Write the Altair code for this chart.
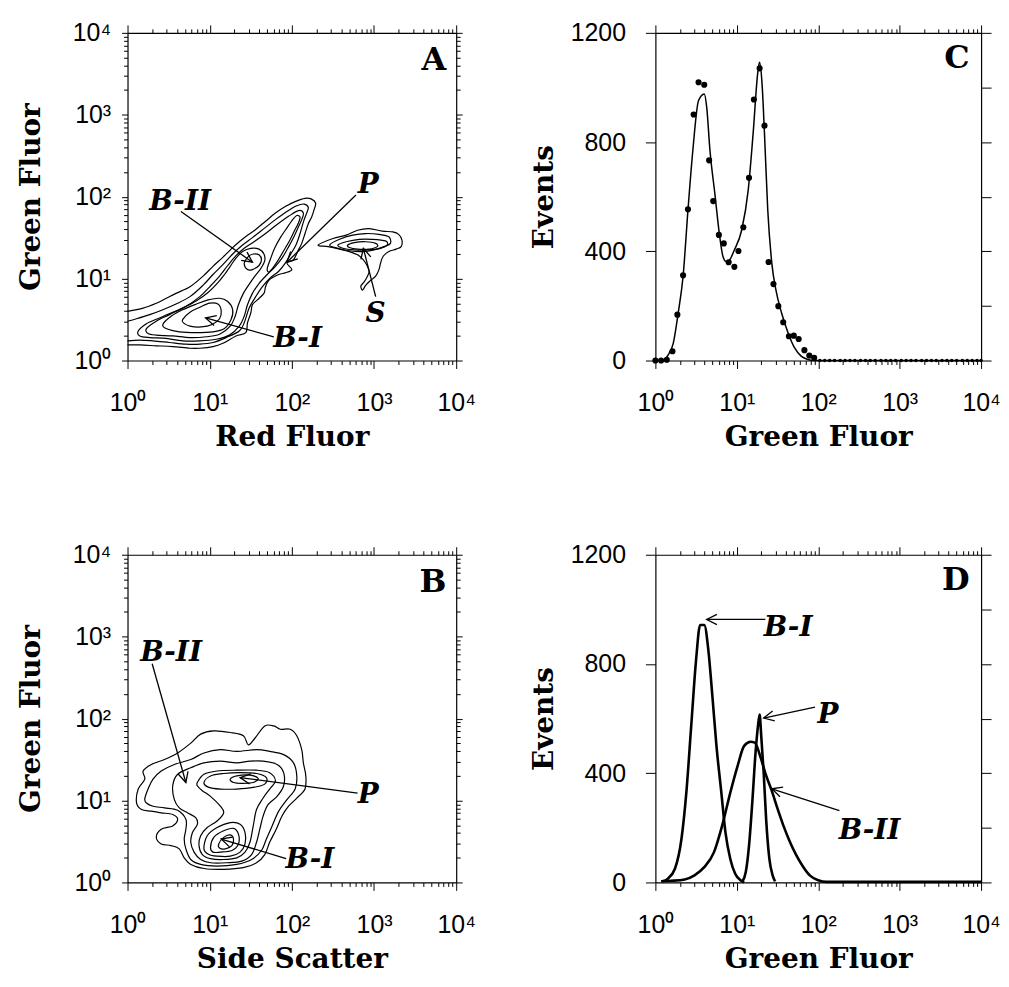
import math
import altair as alt
import pandas as pd

# ---------------- layout / style constants ----------------
W_LOG, W_EV, H = 330, 327, 329
SANS = "Liberation Sans"
SERIF = "DejaVu Serif"
HEAD = "M-1,-0.5L0,0L-1,0.5"

# ---------------- axis ticks and labels ----------------
DECADES = [1, 10, 100, 1000, 10000]
DECADE_LABELS = ["10⁰", "10¹", "10²", "10³", "10⁴"]
LOG_TICKS = [m * 10 ** e for e in range(4) for m in range(1, 10)] + [10000]
EVENT_TICKS_LEFT = [0, 400, 800, 1200]
EVENT_TICKS_RIGHT = [0, 200, 400, 600, 800, 1000, 1200]

# ---------------- Panel A: contours (log10 Red Fluor, log10 Green Fluor) ----------------
a_outer1 = [(0.00, 0.60), (0.19, 0.64), (0.35, 0.70), (0.47, 0.76), (0.59, 0.82), (0.76, 0.90),
            (0.92, 1.03), (1.04, 1.15), (1.16, 1.26), (1.26, 1.36), (1.36, 1.45), (1.46, 1.53),
            (1.56, 1.60), (1.68, 1.70), (1.80, 1.80), (1.92, 1.88), (2.04, 1.94), (2.16, 1.98),
            (2.24, 1.97), (2.29, 1.92), (2.27, 1.84), (2.24, 1.75), (2.20, 1.67), (2.16, 1.55),
            (2.12, 1.43), (2.07, 1.33), (2.02, 1.23), (1.94, 1.19), (2.00, 1.11), (1.92, 1.07),
            (1.84, 1.05), (1.72, 0.98), (1.68, 0.90), (1.66, 0.82), (1.58, 0.74), (1.52, 0.68),
            (1.50, 0.58), (1.46, 0.46), (1.44, 0.34), (1.32, 0.30), (1.16, 0.21), (1.04, 0.17),
            (0.88, 0.15), (0.76, 0.15), (0.55, 0.17), (0.35, 0.18), (0.15, 0.19), (0.00, 0.19)]
a_outer2 = [(0.00, 0.48), (0.11, 0.51), (0.27, 0.56), (0.43, 0.62), (0.59, 0.69), (0.76, 0.78),
            (0.92, 0.92), (1.04, 1.05), (1.16, 1.17), (1.28, 1.30), (1.40, 1.41), (1.52, 1.50),
            (1.66, 1.61), (1.80, 1.72), (1.94, 1.82), (2.06, 1.89), (2.15, 1.91), (2.20, 1.87),
            (2.18, 1.80), (2.14, 1.69), (2.10, 1.55), (2.05, 1.41), (1.98, 1.29), (1.92, 1.19),
            (1.84, 1.09), (1.74, 1.01), (1.64, 0.90), (1.56, 0.78), (1.48, 0.64), (1.42, 0.46),
            (1.36, 0.36), (1.20, 0.28), (1.04, 0.22), (0.88, 0.20), (0.71, 0.20), (0.51, 0.22),
            (0.31, 0.24), (0.15, 0.25), (0.00, 0.24)]
a_ring3 = [(0.13, 0.36), (0.23, 0.45), (0.39, 0.52), (0.55, 0.59), (0.71, 0.66), (0.88, 0.78),
           (1.00, 0.90), (1.12, 1.03), (1.22, 1.16), (1.32, 1.28), (1.42, 1.37), (1.54, 1.45),
           (1.68, 1.55), (1.82, 1.66), (1.96, 1.76), (2.08, 1.83), (2.14, 1.80), (2.12, 1.72),
           (2.07, 1.61), (2.01, 1.48), (1.95, 1.37), (1.88, 1.25), (1.80, 1.15), (1.70, 1.05),
           (1.60, 0.94), (1.52, 0.82), (1.46, 0.68), (1.42, 0.54), (1.36, 0.42), (1.24, 0.31),
           (1.08, 0.26), (0.88, 0.24), (0.67, 0.24), (0.47, 0.27), (0.27, 0.28), (0.15, 0.30)]
a_ring4 = [(0.23, 0.39), (0.35, 0.48), (0.51, 0.56), (0.67, 0.64), (0.84, 0.73), (0.98, 0.83),
           (1.10, 0.95), (1.18, 1.05), (1.25, 1.15), (1.32, 1.25), (1.40, 1.33), (1.50, 1.37),
           (1.60, 1.36), (1.66, 1.30), (1.67, 1.22), (1.62, 1.12), (1.55, 1.03), (1.48, 0.93),
           (1.41, 0.82), (1.35, 0.68), (1.31, 0.54), (1.25, 0.42), (1.12, 0.32), (0.96, 0.29),
           (0.76, 0.28), (0.55, 0.30), (0.35, 0.31), (0.25, 0.33)]
a_p_ring = [(1.70, 1.12), (1.74, 1.24), (1.79, 1.37), (1.86, 1.50), (1.94, 1.62), (2.01, 1.72),
            (2.06, 1.77), (2.10, 1.75), (2.08, 1.68), (2.03, 1.58), (1.97, 1.46), (1.90, 1.34),
            (1.83, 1.22), (1.76, 1.12), (1.72, 1.08)]
a_bi_ring = [(0.43, 0.44), (0.53, 0.54), (0.67, 0.62), (0.84, 0.69), (0.98, 0.74), (1.12, 0.76),
             (1.22, 0.72), (1.28, 0.62), (1.26, 0.50), (1.18, 0.39), (1.04, 0.35), (0.84, 0.34),
             (0.63, 0.35), (0.47, 0.39)]
a_bi_core = [(0.67, 0.50), (0.76, 0.59), (0.88, 0.65), (1.00, 0.70), (1.10, 0.69), (1.14, 0.61),
             (1.12, 0.51), (1.03, 0.44), (0.90, 0.41), (0.76, 0.42), (0.68, 0.46)]
a_bii_core = [(1.42, 1.18), (1.46, 1.26), (1.53, 1.30), (1.60, 1.29), (1.63, 1.23), (1.60, 1.16),
              (1.52, 1.11), (1.46, 1.11)]
a_s1 = [(2.32, 1.41), (2.50, 1.49), (2.66, 1.53), (2.80, 1.59), (2.94, 1.61), (3.10, 1.58),
        (3.23, 1.57), (3.30, 1.54), (3.34, 1.47), (3.33, 1.39), (3.27, 1.36), (3.18, 1.33),
        (3.11, 1.27), (3.08, 1.19), (3.06, 1.11), (3.02, 1.03), (2.96, 0.98), (2.90, 0.92),
        (2.86, 0.86), (2.84, 0.91), (2.88, 0.96), (2.92, 1.03), (2.94, 1.09), (2.91, 1.17),
        (2.86, 1.24), (2.80, 1.29), (2.70, 1.33), (2.58, 1.36), (2.44, 1.39)]
a_s2 = [(2.46, 1.41), (2.58, 1.48), (2.74, 1.53), (2.90, 1.55), (3.06, 1.54), (3.18, 1.51),
        (3.20, 1.43), (3.12, 1.39), (3.00, 1.35), (2.86, 1.33), (2.70, 1.34), (2.56, 1.37)]
a_s3 = [(2.56, 1.41), (2.66, 1.45), (2.82, 1.48), (2.98, 1.48), (3.14, 1.46), (3.16, 1.41),
        (3.08, 1.37), (2.92, 1.35), (2.76, 1.35), (2.62, 1.37)]
a_s4 = [(2.68, 1.41), (2.76, 1.44), (2.90, 1.45), (3.02, 1.43), (3.04, 1.39), (2.94, 1.36),
        (2.80, 1.36), (2.70, 1.38)]

# ---------------- Panel B: contours (log10 Side Scatter, log10 Green Fluor) ----------------
b_ring1 = [(0.11, 0.97), (0.13, 1.14), (0.21, 1.26), (0.19, 1.36), (0.29, 1.44), (0.45, 1.50),
           (0.61, 1.58), (0.77, 1.70), (0.89, 1.81), (1.05, 1.85), (1.25, 1.83), (1.41, 1.79),
           (1.47, 1.68), (1.55, 1.76), (1.67, 1.91), (1.78, 1.91), (1.86, 1.87), (1.98, 1.87),
           (2.06, 1.79), (2.12, 1.62), (2.14, 1.46), (2.17, 1.30), (2.16, 1.14), (2.06, 1.03),
           (1.96, 0.93), (1.88, 0.81), (1.81, 0.65), (1.73, 0.49), (1.67, 0.34), (1.57, 0.24),
           (1.41, 0.18), (1.17, 0.16), (0.93, 0.17), (0.77, 0.22), (0.69, 0.30), (0.63, 0.41),
           (0.53, 0.45), (0.41, 0.47), (0.35, 0.55), (0.41, 0.65), (0.55, 0.69), (0.61, 0.77),
           (0.55, 0.83), (0.41, 0.85), (0.29, 0.87), (0.17, 0.89)]
b_ring2 = [(0.21, 1.02), (0.25, 1.14), (0.31, 1.26), (0.41, 1.36), (0.57, 1.44), (0.77, 1.50),
           (0.93, 1.58), (1.13, 1.62), (1.33, 1.60), (1.57, 1.62), (1.73, 1.60), (1.90, 1.56),
           (2.02, 1.46), (2.06, 1.30), (2.04, 1.14), (1.94, 1.01), (1.84, 0.87), (1.76, 0.69),
           (1.69, 0.53), (1.63, 0.39), (1.51, 0.28), (1.33, 0.22), (1.09, 0.20), (0.89, 0.22),
           (0.77, 0.28), (0.71, 0.41), (0.69, 0.53), (0.71, 0.65), (0.71, 0.77), (0.61, 0.88),
           (0.45, 0.91), (0.31, 0.93), (0.23, 0.97)]
b_ring3 = [(0.55, 1.18), (0.61, 1.32), (0.77, 1.40), (0.93, 1.46), (1.13, 1.48), (1.33, 1.46),
           (1.49, 1.48), (1.65, 1.48), (1.82, 1.44), (1.90, 1.34), (1.90, 1.18), (1.82, 1.05),
           (1.71, 0.95), (1.65, 0.81), (1.61, 0.65), (1.57, 0.49), (1.51, 0.34), (1.39, 0.26),
           (1.21, 0.24), (1.01, 0.24), (0.89, 0.28), (0.81, 0.37), (0.77, 0.49), (0.79, 0.61),
           (0.85, 0.71), (0.83, 0.79), (0.73, 0.85), (0.63, 0.91), (0.57, 1.01)]
b_pbi_ring = [(0.85, 1.22), (0.93, 1.32), (1.09, 1.36), (1.33, 1.37), (1.57, 1.37), (1.73, 1.34),
              (1.80, 1.24), (1.73, 1.14), (1.65, 1.03), (1.57, 0.89), (1.53, 0.69), (1.49, 0.49),
              (1.43, 0.37), (1.33, 0.30), (1.17, 0.28), (1.01, 0.29), (0.91, 0.34), (0.87, 0.45),
              (0.89, 0.57), (0.97, 0.67), (1.09, 0.75), (1.17, 0.85), (1.13, 0.93), (1.01, 1.05),
              (0.91, 1.12), (0.85, 1.18)]
b_p_ring = [(0.93, 1.22), (1.01, 1.30), (1.17, 1.33), (1.37, 1.34), (1.57, 1.33), (1.69, 1.28),
            (1.67, 1.20), (1.53, 1.16), (1.33, 1.14), (1.13, 1.14), (0.99, 1.16)]
b_p_core = [(1.25, 1.26), (1.33, 1.30), (1.49, 1.31), (1.59, 1.27), (1.53, 1.22), (1.39, 1.21),
            (1.29, 1.22)]
b_bi_ring = [(0.93, 0.41), (0.97, 0.57), (1.09, 0.67), (1.25, 0.73), (1.37, 0.71), (1.43, 0.61),
             (1.43, 0.47), (1.37, 0.37), (1.25, 0.32), (1.09, 0.32), (0.99, 0.34)]
b_bi_ring2 = [(1.01, 0.43), (1.05, 0.55), (1.17, 0.63), (1.29, 0.66), (1.35, 0.59), (1.35, 0.47),
              (1.27, 0.39), (1.13, 0.37), (1.04, 0.37)]
b_bi_core = [(1.11, 0.47), (1.17, 0.55), (1.25, 0.58), (1.29, 0.53), (1.27, 0.45), (1.19, 0.41),
             (1.12, 0.42)]

# ---------------- Panel C: histogram of Green Fluor (log10 value, events) ----------------
c_dot_lx = [0.00, 0.07, 0.14, 0.21, 0.27, 0.34, 0.40, 0.47, 0.53, 0.60, 0.66, 0.71, 0.78, 0.84,
            0.90, 0.97, 1.02, 1.08, 1.15, 1.21, 1.28, 1.34, 1.39, 1.45, 1.51, 1.57, 1.64, 1.70,
            1.76, 1.83, 1.89, 1.95]
c_dot_ev = [0, 0, 3, 34, 168, 312, 554, 901, 1019, 1010, 733, 584, 460, 429, 360, 343, 401, 488,
            669, 956, 1070, 860, 361, 280, 199, 140, 89, 91, 79, 38, 18, 10]
c_tail_lx = [2.02, 2.08, 2.14, 2.20, 2.27, 2.33, 2.39, 2.45, 2.52, 2.58, 2.64, 2.70, 2.77, 2.83,
             2.89, 2.95, 3.02, 3.08, 3.14, 3.20, 3.27, 3.33, 3.39, 3.45, 3.52, 3.58, 3.64, 3.70,
             3.77, 3.83, 3.89, 3.95, 4.00]
c_tail_ev = [0, 0, 0, 0, 0, 0, 0, 0, 0, 0, 0, 0, 0, 0, 0, 0, 0, 0, 0, 0, 0, 0, 0, 0, 0, 0, 0, 0,
             0, 0, 0, 0, 0]
c_fit_lx = [0.10, 0.16, 0.22, 0.28, 0.34, 0.40, 0.46, 0.53, 0.60, 0.63, 0.67, 0.73, 0.79, 0.83,
            0.87, 0.91, 0.97, 1.06, 1.14, 1.20, 1.26, 1.28, 1.31, 1.34, 1.38, 1.43, 1.48, 1.55,
            1.63, 1.71, 1.79, 1.87, 1.95, 4.00]
c_fit_ev = [0, 22, 64, 174, 308, 551, 770, 952, 976, 928, 770, 612, 454, 381, 362, 368, 405, 478,
            624, 830, 1061, 1092, 1013, 830, 551, 356, 259, 174, 101, 46, 16, 4, 0, 0]

# ---------------- Panel D: gated histograms (log10 Green Fluor, events) ----------------
d_bi_lx = [0.09, 0.15, 0.24, 0.32, 0.38, 0.44, 0.50, 0.55, 0.60, 0.65, 0.70, 0.75, 0.81, 0.86,
           0.92, 0.98, 1.05, 1.09]
d_bi_ev = [4, 13, 50, 159, 329, 573, 816, 943, 943, 852, 682, 500, 329, 184, 86, 32, 7, 0]
d_bii_lx = [0.07, 0.19, 0.36, 0.48, 0.60, 0.72, 0.82, 0.92, 1.01, 1.09, 1.17, 1.22, 1.29, 1.35,
            1.43, 1.50, 1.57, 1.65, 1.73, 1.82, 1.90, 2.00, 2.10, 4.00]
d_bii_ev = [4, 6, 11, 26, 56, 111, 208, 329, 427, 500, 515, 512, 460, 400, 335, 270, 210, 150,
            100, 55, 25, 8, 2, 2]
d_p_lx = [1.07, 1.11, 1.15, 1.19, 1.23, 1.26, 1.28, 1.30, 1.33, 1.36, 1.40, 1.44, 1.47]
d_p_ev = [4, 38, 135, 293, 475, 573, 615, 536, 402, 232, 86, 26, 4]

# ---------------- annotations (label, label pos, arrow tail, arrow tip) ----------------
a_labels = ["B-II", "P", "B-I", "S"]
a_label_pos = [(0.64, 1.84), (2.93, 2.05), (2.07, 0.17), (3.02, 0.47)]
a_arrow_tail = [(0.65, 1.82), (2.78, 2.02), (1.78, 0.29), (3.02, 0.78)]
a_arrow_tip = [(1.52, 1.20), (1.94, 1.20), (0.95, 0.52), (2.87, 1.37)]

b_labels = ["B-II", "P", "B-I"]
b_label_pos = [(0.53, 2.70), (2.93, 0.97), (2.22, 0.17)]
b_arrow_tail = [(0.30, 2.67), (2.80, 1.09), (1.93, 0.29)]
b_arrow_tip = [(0.71, 1.22), (1.37, 1.28), (1.14, 0.53)]

d_labels = ["B-I", "P", "B-II"]
d_label_pos = [(1.63, 901), (2.12, 583), (2.63, 160)]
d_arrow_tail = [(1.35, 963), (1.96, 642), (2.26, 263)]
d_arrow_tip = [(0.63, 963), (1.33, 602), (1.43, 343)]

log_letter_pos = (3.88, 3.55)
ev_letter_pos = (3.86, 1070)

# =====================================================================
LABEL_EXPR = " : ".join(f"datum.value == {v} ? '{s}'" for v, s in zip(DECADES, DECADE_LABELS)) + " : ''"
MAJOR_TEST = "indexof([1, 10, 100, 1000, 10000], datum.value) >= 0"


def log_tick(major, minor):
    return {"condition": {"test": MAJOR_TEST, "value": major}, "value": minor}


def make_axis(orient, values, size, labels=False, title="", label_pad=0, title_pad=0, log=True):
    kw = dict(orient=orient, values=values, grid=False, domainColor="black", domainWidth=1.2,
              tickColor="black", tickWidth=1, tickSize=size, labelOverlap=False,
              labelFlush=False, title=title)
    if labels:
        kw.update(labelFont=SANS, labelFontSize=25, labelColor="black", labelPadding=label_pad)
        if log:
            kw["labelExpr"] = LABEL_EXPR
        else:
            kw["format"] = "d"
    else:
        kw["labels"] = False
    if title:
        kw.update(titleFont=SERIF, titleFontSize=28, titleFontWeight="bold",
                  titleColor="black", titlePadding=title_pad)
    return alt.Axis(**kw)


def log_scale():
    return alt.Scale(type="log", domain=[1, 10000], nice=False)


def ev_scale():
    return alt.Scale(domain=[0, 1200], nice=False, zero=True)


def paths_df(paths, ylog=True):
    rows = []
    for name, pts in paths.items():
        for i, (lx, ly) in enumerate(pts):
            rows.append({"path": name, "i": i, "x": 10 ** lx, "y": 10 ** ly if ylog else ly})
    return pd.DataFrame(rows)


def arrows_df(tails, tips, width, ylog=True):
    kx = width / 4
    ky = H / 4 if ylog else H / 1200
    rows = []
    for (tx, ty), (hx, hy) in zip(tails, tips):
        ang = math.degrees(math.atan2(-(hy - ty) * ky, (hx - tx) * kx)) % 360
        rows.append({"x": 10 ** tx, "y": 10 ** ty if ylog else ty,
                     "x2": 10 ** hx, "y2": 10 ** hy if ylog else hy, "angle": ang})
    return pd.DataFrame(rows)


def labels_df(texts, pos, ylog=True):
    return pd.DataFrame({"text": texts,
                         "x": [10 ** p[0] for p in pos],
                         "y": [10 ** p[1] if ylog else p[1] for p in pos]})


def enc_xy(ys, xaxis=None, yaxis=None, xf="x", yf="y"):
    return dict(x=alt.X(f"{xf}:Q", scale=log_scale(), axis=xaxis),
                y=alt.Y(f"{yf}:Q", scale=ys(), axis=yaxis))


def arrow_layers(ys, arrows, labels):
    rule = alt.Chart(arrows).mark_rule(color="black", strokeWidth=1.3).encode(
        x2="x2:Q", y2="y2:Q", **enc_xy(ys))
    head = alt.Chart(arrows).mark_point(shape=HEAD, filled=False, stroke="black",
                                        strokeWidth=1.3, size=420, opacity=1).encode(
        angle=alt.Angle("angle:Q", scale=None), **enc_xy(ys, xf="x2", yf="y2"))
    text = alt.Chart(labels).mark_text(font=SERIF, fontSize=28, fontStyle="italic",
                                       fontWeight="bold", color="black", align="center",
                                       baseline="alphabetic").encode(text="text:N", **enc_xy(ys))
    return [rule, head, text]


def letter_layer(ys, letter, pos, ylog):
    ldf = labels_df([letter], [pos], ylog)
    return alt.Chart(ldf).mark_text(font=SERIF, fontSize=32, fontWeight="bold", color="black",
                                    align="right", baseline="alphabetic").encode(
        text="text:N", **enc_xy(ys))


def log_axes(xtitle):
    xb = make_axis("bottom", LOG_TICKS, log_tick(8, 4), labels=True, title=xtitle,
                   label_pad=22, title_pad=8)
    yl = make_axis("left", LOG_TICKS, log_tick(6, 4), labels=True, title="Green Fluor",
                   label_pad=11, title_pad=27)
    xt = make_axis("top", LOG_TICKS, log_tick(8, 4))
    yr = make_axis("right", LOG_TICKS, log_tick(6, 4))
    return xb, yl, xt, yr


def ev_axes():
    xb = make_axis("bottom", LOG_TICKS, log_tick(8, 4), labels=True, title="Green Fluor",
                   label_pad=22, title_pad=8)
    yl = make_axis("left", EVENT_TICKS_LEFT, 10, labels=True, title="Events", label_pad=20,
                   title_pad=12, log=False)
    xt = make_axis("top", LOG_TICKS, log_tick(8, 4))
    yr = make_axis("right", EVENT_TICKS_RIGHT, 10, log=False)
    return xb, yl, xt, yr


def contour_panel(closed, opened, xtitle, arrows, labels, letter):
    xb, yl, xt, yr = log_axes(xtitle)
    cdf = paths_df(closed)
    layers = [
        alt.Chart(cdf).mark_line(interpolate="cardinal-closed", color="black",
                                 strokeWidth=1.2).encode(
            detail="path:N", order="i:Q", **enc_xy(log_scale, xaxis=xb, yaxis=yl))
    ]
    if opened:
        odf = paths_df(opened)
        layers.append(alt.Chart(odf).mark_line(interpolate="cardinal", color="black",
                                               strokeWidth=1.2).encode(
            detail="path:N", order="i:Q", **enc_xy(log_scale)))
    layers += arrow_layers(log_scale, arrows, labels)
    layers.append(letter_layer(log_scale, letter, log_letter_pos, True))
    layers.append(alt.Chart(cdf).mark_point(opacity=0).encode(
        **enc_xy(log_scale, xaxis=xt, yaxis=yr)))
    return alt.layer(*layers).resolve_axis(x="independent", y="independent").properties(
        width=W_LOG, height=H)


# ---------------- Panel A ----------------
panel_a = contour_panel(
    {"a3": a_ring3, "a4": a_ring4, "ap": a_p_ring, "a5": a_bi_ring, "a6": a_bi_core,
     "a7": a_bii_core, "s1": a_s1, "s2": a_s2, "s3": a_s3, "s4": a_s4},
    {"a1": a_outer1, "a2": a_outer2},
    "Red Fluor",
    arrows_df(a_arrow_tail, a_arrow_tip, W_LOG), labels_df(a_labels, a_label_pos), "A")

# ---------------- Panel B ----------------
panel_b = contour_panel(
    {"b1": b_ring1, "b2": b_ring2, "b3": b_ring3, "b4": b_pbi_ring, "b5": b_p_ring,
     "b6": b_p_core, "b7": b_bi_ring, "b8": b_bi_ring2, "b9": b_bi_core},
    None,
    "Side Scatter",
    arrows_df(b_arrow_tail, b_arrow_tip, W_LOG), labels_df(b_labels, b_label_pos), "B")

# ---------------- Panel C ----------------
xb, yl, xt, yr = ev_axes()
dots = pd.DataFrame({"x": [10 ** v for v in c_dot_lx], "y": c_dot_ev})
tail = pd.DataFrame({"x": [10 ** v for v in c_tail_lx], "y": c_tail_ev})
fit = pd.DataFrame({"x": [10 ** v for v in c_fit_lx], "y": c_fit_ev})
c_layers = [
    alt.Chart(fit).mark_line(interpolate="monotone", color="black", strokeWidth=1.5).encode(
        **enc_xy(ev_scale, xaxis=xb, yaxis=yl)),
    alt.Chart(dots).mark_circle(color="black", size=38, opacity=1).encode(**enc_xy(ev_scale)),
    alt.Chart(tail).mark_circle(color="black", size=12, opacity=1).encode(**enc_xy(ev_scale)),
    letter_layer(ev_scale, "C", ev_letter_pos, False),
    alt.Chart(dots).mark_point(opacity=0).encode(**enc_xy(ev_scale, xaxis=xt, yaxis=yr)),
]
panel_c = alt.layer(*c_layers).resolve_axis(x="independent", y="independent").properties(
    width=W_EV, height=H)

# ---------------- Panel D ----------------
xb, yl, xt, yr = ev_axes()
curves = paths_df({"B-I": list(zip(d_bi_lx, d_bi_ev)),
                   "B-II": list(zip(d_bii_lx, d_bii_ev)),
                   "P": list(zip(d_p_lx, d_p_ev))}, ylog=False)
d_layers = [
    alt.Chart(curves).mark_line(interpolate="monotone", color="black", strokeWidth=2.6).encode(
        detail="path:N", order="i:Q", **enc_xy(ev_scale, xaxis=xb, yaxis=yl)),
]
d_layers += arrow_layers(ev_scale, arrows_df(d_arrow_tail, d_arrow_tip, W_EV, False),
                         labels_df(d_labels, d_label_pos, False))
d_layers.append(letter_layer(ev_scale, "D", ev_letter_pos, False))
d_layers.append(alt.Chart(curves).mark_point(opacity=0).encode(
    **enc_xy(ev_scale, xaxis=xt, yaxis=yr)))
panel_d = alt.layer(*d_layers).resolve_axis(x="independent", y="independent").properties(
    width=W_EV, height=H)

chart = alt.vconcat(
    alt.hconcat(panel_a, panel_c, spacing=54),
    alt.hconcat(panel_b, panel_d, spacing=54),
    spacing=92,
).configure_view(stroke=None).properties(
    padding={"left": 9, "top": 11, "right": 0, "bottom": 0}, background="white")

chart.save("out.html", embed_options={"renderer": "svg", "actions": False})
